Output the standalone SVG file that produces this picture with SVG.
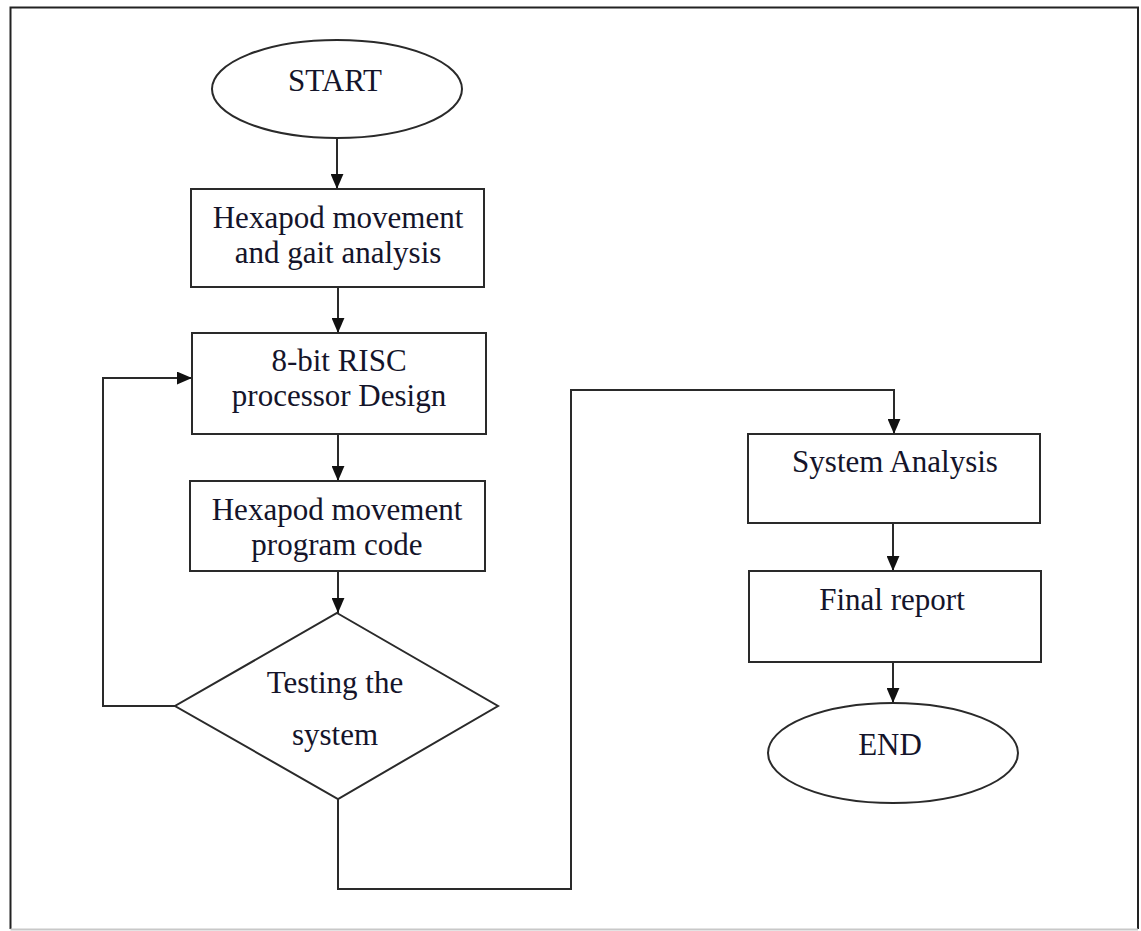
<svg xmlns="http://www.w3.org/2000/svg" width="1141" height="931" viewBox="0 0 1141 931">
  <style>
    .shape { fill: #ffffff; stroke: #2a2a2a; stroke-width: 2; }
    .conn { fill: none; stroke: #2a2a2a; stroke-width: 2; }
    .label { font-family: "Liberation Serif", "Times New Roman", serif; font-size: 31px; fill: #14142a; text-anchor: middle; }
  </style>
  <defs>
    <marker id="arrow" viewBox="0 0 14 12" refX="14" refY="6" markerWidth="15" markerHeight="13" markerUnits="userSpaceOnUse" orient="auto">
      <path d="M0,0 L14,6 L0,12 z" fill="#111111"/>
    </marker>
  </defs>
  <rect width="1141" height="931" fill="#ffffff"/>
  <g id="frame">
    <path d="M10.5,929 L10.5,7.5 L1138,7.5 L1138,929" fill="none" stroke="#222222" stroke-width="2"/>
    <line x1="10.5" y1="929.5" x2="1138" y2="929.5" stroke="#c8c8c8" stroke-width="2"/>
  </g>
  <g id="connectors">
    <line class="conn" x1="337" y1="138" x2="337" y2="189" marker-end="url(#arrow)"/>
    <line class="conn" x1="338" y1="287" x2="338" y2="333" marker-end="url(#arrow)"/>
    <line class="conn" x1="338" y1="434" x2="338" y2="481" marker-end="url(#arrow)"/>
    <line class="conn" x1="338" y1="571" x2="338" y2="613" marker-end="url(#arrow)"/>
    <polyline class="conn" points="175,706 103,706 103,378 192,378" marker-end="url(#arrow)"/>
    <polyline class="conn" points="338,799 338,889 571,889 571,390 894,390 894,434" marker-end="url(#arrow)"/>
    <line class="conn" x1="893" y1="523" x2="893" y2="571" marker-end="url(#arrow)"/>
    <line class="conn" x1="893" y1="662" x2="893" y2="703" marker-end="url(#arrow)"/>
  </g>
  <g id="start">
    <ellipse class="shape" cx="337" cy="89" rx="125" ry="49"/>
    <text class="label" x="335" y="91">START</text>
  </g>
  <g id="gait-analysis">
    <rect class="shape" x="191" y="189" width="293" height="98"/>
    <text class="label" x="338" y="228">Hexapod movement</text>
    <text class="label" x="338" y="263">and gait analysis</text>
  </g>
  <g id="risc-design">
    <rect class="shape" x="192" y="333" width="294" height="101"/>
    <text class="label" x="339" y="371">8-bit RISC</text>
    <text class="label" x="339" y="406">processor Design</text>
  </g>
  <g id="program-code">
    <rect class="shape" x="190" y="481" width="295" height="90"/>
    <text class="label" x="337" y="520">Hexapod movement</text>
    <text class="label" x="337" y="555">program code</text>
  </g>
  <g id="testing">
    <polygon class="shape" points="337,613 498,706 338,799 175,706"/>
    <text class="label" x="335" y="693">Testing the</text>
    <text class="label" x="335" y="745">system</text>
  </g>
  <g id="system-analysis">
    <rect class="shape" x="748" y="434" width="292" height="89"/>
    <text class="label" x="895" y="472">System Analysis</text>
  </g>
  <g id="final-report">
    <rect class="shape" x="749" y="571" width="292" height="91"/>
    <text class="label" x="892" y="610">Final report</text>
  </g>
  <g id="end">
    <ellipse class="shape" cx="893" cy="753" rx="125" ry="50"/>
    <text class="label" x="890" y="755">END</text>
  </g>
</svg>
